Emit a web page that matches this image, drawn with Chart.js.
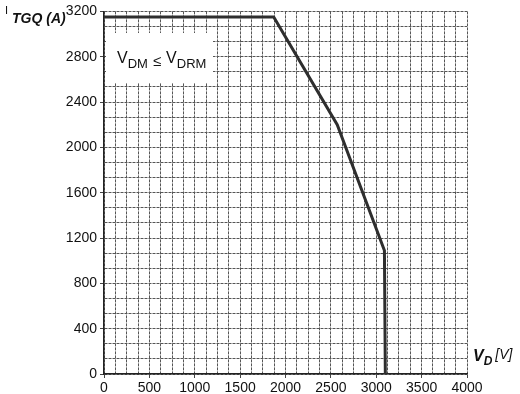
<!DOCTYPE html>
<html>
<head>
<meta charset="utf-8">
<script src="https://cdn.jsdelivr.net/npm/chart.js@4/dist/chart.umd.min.js"></script>
<style>
  html, body { margin: 0; padding: 0; background: #fff; }
  #wrap { width: 520px; height: 394px; position: relative; }
</style>
</head>
<body>
<div id="wrap"><canvas id="chart" width="520" height="394"></canvas></div>
<script>
// turn-off current limit vs. off-state voltage
const vdPoints = [0, 1870, 2570, 3090, 3100];
const itgqPoints = [3150, 3150, 2200, 1090, 0];
const xLabelTicks = [0, 500, 1000, 1500, 2000, 2500, 3000, 3500, 4000];
const yLabelTicks = [0, 400, 800, 1200, 1600, 2000, 2400, 2800, 3200];

const xGridStep = 125;
const yGridStep = 400 / 3;
const FONT = '"Liberation Sans", Arial, sans-serif';

function isLabel(v, list) {
    return list.some(t => Math.abs(t - v) < 1e-6);
}

function makeTicks(max, step) {
    const out = [];
    const n = Math.round(max / step);
    for (let i = 0; i <= n; i++) out.push({ value: i * step });
    return out;
}

const overlay = {
    id: 'overlay',
    beforeDatasetsDraw(chart) {
        const ctx = chart.ctx;
        ctx.save();
        // white label box over the grid
        ctx.fillStyle = '#fff';
        ctx.fillRect(106, 33, 107, 50);
        ctx.fillStyle = '#111';
        ctx.textBaseline = 'alphabetic';
        ctx.font = '16px ' + FONT;
        let x = 117;
        ctx.fillText('V', x, 63);
        x += ctx.measureText('V').width;
        ctx.font = '13px ' + FONT;
        ctx.fillText('DM', x, 68);
        x += ctx.measureText('DM').width + 5;
        ctx.font = '15px ' + FONT;
        ctx.fillText('\u2264', x, 66);
        x += ctx.measureText('\u2264').width + 5;
        ctx.font = '16px ' + FONT;
        ctx.fillText('V', x, 63);
        x += ctx.measureText('V').width;
        ctx.font = '13px ' + FONT;
        ctx.fillText('DRM', x, 68);
        ctx.restore();
    },
    afterDraw(chart) {
        const ctx = chart.ctx;
        ctx.save();
        ctx.fillStyle = '#111';
        ctx.textBaseline = 'alphabetic';
        // y axis title
        ctx.font = '11px ' + FONT;
        ctx.fillText('I', 5, 14);
        ctx.font = 'italic bold 14px ' + FONT;
        ctx.fillText('TGQ (A)', 12, 23);
        // x axis title
        ctx.font = 'italic bold 16px ' + FONT;
        ctx.fillText('V', 473, 361);
        let x = 473 + ctx.measureText('V').width;
        ctx.font = 'italic bold 12px ' + FONT;
        ctx.fillText('D', x, 365);
        x += ctx.measureText('D').width + 3;
        ctx.font = 'italic 14px ' + FONT;
        ctx.fillText('[V]', x, 359);
        ctx.restore();
    }
};

new Chart(document.getElementById('chart'), {
    type: 'line',
    data: {
        datasets: [{
            data: vdPoints.map((v, i) => ({ x: v, y: itgqPoints[i] })),
            borderColor: '#2e2e2e',
            borderWidth: 3,
            pointRadius: 0,
            tension: 0,
            fill: false
        }]
    },
    options: {
        responsive: false,
        animation: false,
        maintainAspectRatio: false,
        devicePixelRatio: 1,
        layout: { padding: { left: 0, right: 53, top: 11, bottom: 0 } },
        plugins: { legend: { display: false }, tooltip: { enabled: false } },
        scales: {
            x: {
                type: 'linear',
                min: 0,
                max: 4000,
                afterBuildTicks: s => { s.ticks = makeTicks(4000, xGridStep); },
                afterFit: s => { s.height = 20; },
                border: { color: '#222', width: 1.5, dash: [3, 1] },
                grid: {
                    color: '#555',
                    lineWidth: 1,
                    tickLength: 4,
                    tickColor: c => isLabel(c.tick.value, xLabelTicks) ? '#444' : 'rgba(0,0,0,0)'
                },
                ticks: {
                    autoSkip: false,
                    maxRotation: 0,
                    padding: 2,
                    color: '#111',
                    font: { family: FONT, size: 14 },
                    callback: v => isLabel(v, xLabelTicks) ? String(Math.round(v)) : ''
                }
            },
            y: {
                type: 'linear',
                min: 0,
                max: 3200,
                afterBuildTicks: s => { s.ticks = makeTicks(3200, yGridStep); },
                afterFit: s => { s.width = 104; },
                border: { color: '#222', width: 1.5, dash: [3, 1] },
                grid: {
                    color: '#555',
                    lineWidth: 1,
                    tickLength: 4,
                    tickColor: c => isLabel(c.tick.value, yLabelTicks) ? '#444' : 'rgba(0,0,0,0)'
                },
                ticks: {
                    autoSkip: false,
                    padding: 3,
                    color: '#111',
                    font: { family: FONT, size: 14 },
                    callback: v => isLabel(v, yLabelTicks) ? String(Math.round(v)) : ''
                }
            }
        }
    },
    plugins: [overlay]
});
</script>
</body>
</html>
